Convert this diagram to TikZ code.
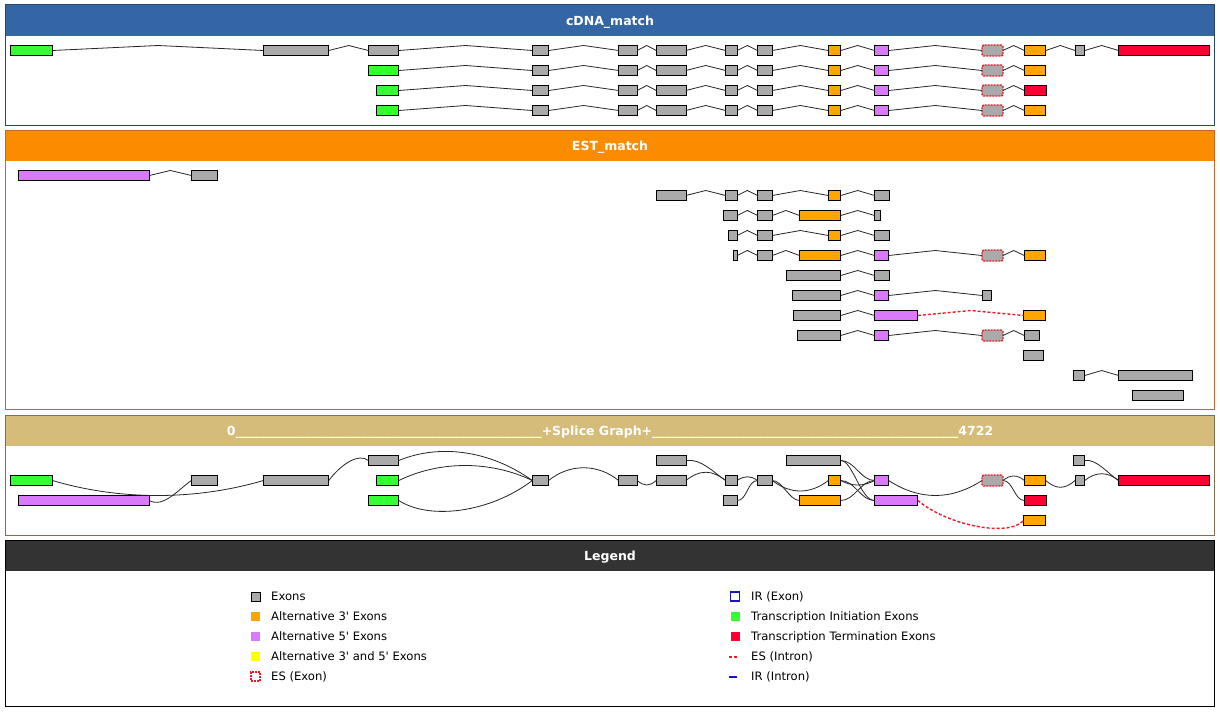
\documentclass[tikz,border=0pt]{standalone}
\usepackage{fontspec}
\setmainfont{DejaVu Sans}
\usepackage{tikz}
\usetikzlibrary{calc}

\definecolor{exgray}{RGB}{170,170,170}
\definecolor{altthree}{RGB}{255,165,0}
\definecolor{altfive}{RGB}{218,122,250}
\definecolor{bothyellow}{RGB}{255,255,0}
\definecolor{initgreen}{RGB}{51,255,51}
\definecolor{termred}{RGB}{255,0,51}
\definecolor{esred}{RGB}{225,30,40}
\definecolor{irblue}{RGB}{20,20,210}
\definecolor{cdnahead}{RGB}{52,101,164}
\definecolor{cdnaframe}{RGB}{40,70,110}
\definecolor{esthead}{RGB}{251,140,0}
\definecolor{estframe}{RGB}{205,100,40}
\definecolor{splicehead}{RGB}{214,188,122}
\definecolor{spliceframe}{RGB}{130,110,80}
\definecolor{legendhead}{RGB}{51,51,51}

\newcommand{\intron}[3][intron]{%
  \draw[#1] (#2.east) -- ($(#2.east)!.5!(#3.west)+(0,-5)$) -- (#3.west);}

\begin{document}
\begin{tikzpicture}[x=1pt,y=-1pt,
    exon/.style={draw=black, line width=0.8pt, fill=exgray, minimum height=10pt,
      inner sep=0pt, outer sep=0pt, anchor=west},
    alt3/.style={exon, fill=altthree},
    alt5/.style={exon, fill=altfive},
    init/.style={exon, fill=initgreen},
    term/.style={exon, fill=termred},
    esexon/.style={exon, draw=esred, line width=1.4pt, dash pattern=on 2pt off 1pt,
      rounded corners=1.5pt, minimum height=11pt},
    intron/.style={draw=black!85, line width=0.8pt},
    esintron/.style={draw=esred, line width=1.4pt, dash pattern=on 3pt off 2pt},
    sgedge/.style={draw=black!85, line width=0.8pt},
    paneltitle/.style={text=white, font=\fontsize{12.5}{15}\selectfont\bfseries,
      anchor=base, inner sep=0pt},
    legtext/.style={font=\fontsize{11.6}{13}\selectfont, anchor=base west, inner sep=0pt},
    legbox/.style={minimum size=9pt, inner sep=0pt, outer sep=0pt}]

\useasboundingbox (0,0) rectangle (1220,725);
\fill[white] (0,0) rectangle (1220,725);

% panels
\fill[cdnahead] (5,5) rectangle (1214,36);
\draw[cdnaframe, line width=1pt] (5,5) rectangle (1214,125);
\node[paneltitle] (cdnatitle) at (610,25.2) {cDNA\_match};

\fill[esthead] (5,130) rectangle (1214,160.5);
\draw[estframe, line width=1pt] (5,130) rectangle (1214,409.5);
\node[paneltitle] (esttitle) at (610,150) {EST\_match};

\fill[splicehead] (5,415) rectangle (1214,445.5);
\draw[spliceframe, line width=1pt] (5,415) rectangle (1214,535);
\node[paneltitle] (sgtitle) at (610,435.5)
  {0\foreach\u in {1,...,49}{\_}+Splice Graph+\foreach\u in {1,...,49}{\_}4722};

\fill[legendhead] (5,540) rectangle (1214,571);
\draw[black, line width=1pt] (5,540) rectangle (1214,706);
\node[paneltitle] (legtitle) at (610,560) {Legend};

% cDNA_match, row 1
\node[init,minimum width=42pt] (c1a) at (10.5,50.5) {};
\node[exon,minimum width=65.4pt] (c1b) at (263.4,50.5) {};
\node[exon,minimum width=30.3pt] (c1c) at (368.5,50.5) {};
\node[exon,minimum width=16.3pt] (c1d) at (532.3,50.5) {};
\node[exon,minimum width=18.6pt] (c1e) at (618.6,50.5) {};
\node[exon,minimum width=29.6pt] (c1f) at (656.3,50.5) {};
\node[exon,minimum width=11.6pt] (c1g) at (725.6,50.5) {};
\node[exon,minimum width=14.8pt] (c1h) at (757.5,50.5) {};
\node[alt3,minimum width=12.4pt] (c1i) at (828.3,50.5) {};
\node[alt5,minimum width=14pt] (c1j) at (874.6,50.5) {};
\node[esexon,minimum width=21pt] (c1k) at (982,50.5) {};
\node[alt3,minimum width=21.4pt] (c1l) at (1024.4,50.5) {};
\node[exon,minimum width=9.7pt] (c1m) at (1075,50.5) {};
\node[term,minimum width=91pt] (c1n) at (1118.6,50.5) {};
\intron{c1a}{c1b} \intron{c1b}{c1c} \intron{c1c}{c1d} \intron{c1d}{c1e}
\intron{c1e}{c1f} \intron{c1f}{c1g} \intron{c1g}{c1h} \intron{c1h}{c1i}
\intron{c1i}{c1j} \intron{c1j}{c1k} \intron{c1k}{c1l} \intron{c1l}{c1m}
\intron{c1m}{c1n}

% cDNA_match, row 2
\node[init,minimum width=30.3pt] (c2a) at (368.5,70.5) {};
\node[exon,minimum width=16.3pt] (c2b) at (532.3,70.5) {};
\node[exon,minimum width=18.6pt] (c2c) at (618.6,70.5) {};
\node[exon,minimum width=29.6pt] (c2d) at (656.3,70.5) {};
\node[exon,minimum width=11.6pt] (c2e) at (725.6,70.5) {};
\node[exon,minimum width=14.8pt] (c2f) at (757.5,70.5) {};
\node[alt3,minimum width=12.4pt] (c2g) at (828.3,70.5) {};
\node[alt5,minimum width=14pt] (c2h) at (874.6,70.5) {};
\node[esexon,minimum width=21pt] (c2i) at (982,70.5) {};
\node[alt3,minimum width=21.4pt] (c2j) at (1024.4,70.5) {};
\intron{c2a}{c2b} \intron{c2b}{c2c} \intron{c2c}{c2d} \intron{c2d}{c2e}
\intron{c2e}{c2f} \intron{c2f}{c2g} \intron{c2g}{c2h} \intron{c2h}{c2i}
\intron{c2i}{c2j}

% cDNA_match, row 3
\node[init,minimum width=22.2pt] (c3a) at (376.6,90.5) {};
\node[exon,minimum width=16.3pt] (c3b) at (532.3,90.5) {};
\node[exon,minimum width=18.6pt] (c3c) at (618.6,90.5) {};
\node[exon,minimum width=29.6pt] (c3d) at (656.3,90.5) {};
\node[exon,minimum width=11.6pt] (c3e) at (725.6,90.5) {};
\node[exon,minimum width=14.8pt] (c3f) at (757.5,90.5) {};
\node[alt3,minimum width=12.4pt] (c3g) at (828.3,90.5) {};
\node[alt5,minimum width=14pt] (c3h) at (874.6,90.5) {};
\node[esexon,minimum width=21pt] (c3i) at (982,90.5) {};
\node[term,minimum width=22.2pt] (c3j) at (1024.4,90.5) {};
\intron{c3a}{c3b} \intron{c3b}{c3c} \intron{c3c}{c3d} \intron{c3d}{c3e}
\intron{c3e}{c3f} \intron{c3f}{c3g} \intron{c3g}{c3h} \intron{c3h}{c3i}
\intron{c3i}{c3j}

% cDNA_match, row 4
\node[init,minimum width=22.2pt] (c4a) at (376.6,110.5) {};
\node[exon,minimum width=16.3pt] (c4b) at (532.3,110.5) {};
\node[exon,minimum width=18.6pt] (c4c) at (618.6,110.5) {};
\node[exon,minimum width=29.6pt] (c4d) at (656.3,110.5) {};
\node[exon,minimum width=11.6pt] (c4e) at (725.6,110.5) {};
\node[exon,minimum width=14.8pt] (c4f) at (757.5,110.5) {};
\node[alt3,minimum width=12.4pt] (c4g) at (828.3,110.5) {};
\node[alt5,minimum width=14pt] (c4h) at (874.6,110.5) {};
\node[esexon,minimum width=21pt] (c4i) at (982,110.5) {};
\node[alt3,minimum width=21.4pt] (c4j) at (1024.4,110.5) {};
\intron{c4a}{c4b} \intron{c4b}{c4c} \intron{c4c}{c4d} \intron{c4d}{c4e}
\intron{c4e}{c4f} \intron{c4f}{c4g} \intron{c4g}{c4h} \intron{c4h}{c4i}
\intron{c4i}{c4j}

% EST_match
\node[alt5,minimum width=131.1pt] (e1a) at (18.3,175.5) {};
\node[exon,minimum width=25.7pt] (e1b) at (191.4,175.5) {};
\intron{e1a}{e1b}

\node[exon,minimum width=29.6pt] (e2a) at (656.3,195.5) {};
\node[exon,minimum width=11.6pt] (e2b) at (725.6,195.5) {};
\node[exon,minimum width=14.8pt] (e2c) at (757.5,195.5) {};
\node[alt3,minimum width=12.4pt] (e2d) at (828.3,195.5) {};
\node[exon,minimum width=14.8pt] (e2e) at (874.6,195.5) {};
\intron{e2a}{e2b} \intron{e2b}{e2c} \intron{e2c}{e2d} \intron{e2d}{e2e}

\node[exon,minimum width=14pt] (e3a) at (723.2,215.5) {};
\node[exon,minimum width=14.8pt] (e3b) at (757.5,215.5) {};
\node[alt3,minimum width=41.2pt] (e3c) at (799.5,215.5) {};
\node[exon,minimum width=5.8pt] (e3d) at (874.6,215.5) {};
\intron{e3a}{e3b} \intron{e3b}{e3c} \intron{e3c}{e3d}

\node[exon,minimum width=8.9pt] (e4a) at (728.3,235.5) {};
\node[exon,minimum width=14.8pt] (e4b) at (757.5,235.5) {};
\node[alt3,minimum width=12.4pt] (e4c) at (828.3,235.5) {};
\node[exon,minimum width=14.8pt] (e4d) at (874.6,235.5) {};
\intron{e4a}{e4b} \intron{e4b}{e4c} \intron{e4c}{e4d}

\node[exon,minimum width=3.9pt] (e5a) at (733.3,255.5) {};
\node[exon,minimum width=14.8pt] (e5b) at (757.5,255.5) {};
\node[alt3,minimum width=41.2pt] (e5c) at (799.5,255.5) {};
\node[alt5,minimum width=14pt] (e5d) at (874.6,255.5) {};
\node[esexon,minimum width=21pt] (e5e) at (982,255.5) {};
\node[alt3,minimum width=21.4pt] (e5f) at (1024.4,255.5) {};
\intron{e5a}{e5b} \intron{e5b}{e5c} \intron{e5c}{e5d} \intron{e5d}{e5e}
\intron{e5e}{e5f}

\node[exon,minimum width=54.4pt] (e6a) at (786.3,275.5) {};
\node[exon,minimum width=14.8pt] (e6b) at (874.6,275.5) {};
\intron{e6a}{e6b}

\node[exon,minimum width=48.2pt] (e7a) at (792.5,295.5) {};
\node[alt5,minimum width=14pt] (e7b) at (874.6,295.5) {};
\node[exon,minimum width=8.9pt] (e7c) at (982.4,295.5) {};
\intron{e7a}{e7b} \intron{e7b}{e7c}

\node[exon,minimum width=47.4pt] (e8a) at (793.3,315.5) {};
\node[alt5,minimum width=43.2pt] (e8b) at (874.6,315.5) {};
\node[alt3,minimum width=22.2pt] (e8c) at (1023.6,315.5) {};
\intron{e8a}{e8b} \intron[esintron]{e8b}{e8c}

\node[exon,minimum width=43.2pt] (e9a) at (797.5,335.5) {};
\node[alt5,minimum width=14pt] (e9b) at (874.6,335.5) {};
\node[esexon,minimum width=21pt] (e9c) at (982,335.5) {};
\node[exon,minimum width=15.2pt] (e9d) at (1024.4,335.5) {};
\intron{e9a}{e9b} \intron{e9b}{e9c} \intron{e9c}{e9d}

\node[exon,minimum width=19.9pt] (e10a) at (1023.6,355.5) {};

\node[exon,minimum width=10.9pt] (e11a) at (1073.8,375.5) {};
\node[exon,minimum width=73.9pt] (e11b) at (1118.6,375.5) {};
\intron{e11a}{e11b}

\node[exon,minimum width=50.9pt] (e12a) at (1132.6,395.5) {};

% Splice Graph
\node[exon,minimum width=30.3pt] (sC) at (368.5,460.5) {};
\node[exon,minimum width=30pt] (sF2) at (656.3,460.5) {};
\node[exon,minimum width=54.4pt] (sP) at (786.3,460.5) {};
\node[exon,minimum width=10.9pt] (sM2) at (1073.8,460.5) {};

\node[init,minimum width=42pt] (sA) at (10.5,480.5) {};
\node[exon,minimum width=25.7pt] (sQ) at (191.4,480.5) {};
\node[exon,minimum width=65.4pt] (sB) at (263.4,480.5) {};
\node[init,minimum width=22.2pt] (sC2) at (376.6,480.5) {};
\node[exon,minimum width=16.3pt] (sD) at (532.3,480.5) {};
\node[exon,minimum width=18.6pt] (sE) at (618.6,480.5) {};
\node[exon,minimum width=29.6pt] (sF) at (656.3,480.5) {};
\node[exon,minimum width=11.6pt] (sG) at (725.6,480.5) {};
\node[exon,minimum width=14.8pt] (sH) at (757.5,480.5) {};
\node[alt3,minimum width=12.4pt] (sI) at (828.3,480.5) {};
\node[alt5,minimum width=14pt] (sJ) at (874.6,480.5) {};
\node[esexon,minimum width=21pt] (sK) at (982,480.5) {};
\node[alt3,minimum width=21.4pt] (sL) at (1024.4,480.5) {};
\node[exon,minimum width=9.7pt] (sM) at (1075,480.5) {};
\node[term,minimum width=91pt] (sN) at (1118.6,480.5) {};

\node[alt5,minimum width=131.1pt] (sV) at (18.3,500.5) {};
\node[init,minimum width=30.3pt] (sC3) at (368.5,500.5) {};
\node[exon,minimum width=14pt] (sG2) at (723.2,500.5) {};
\node[alt3,minimum width=41.2pt] (sO) at (799.5,500.5) {};
\node[alt5,minimum width=43.2pt] (sJ2) at (874.6,500.5) {};
\node[term,minimum width=22.2pt] (sR) at (1024.4,500.5) {};

\node[alt3,minimum width=22.2pt] (sL2) at (1023.6,520.5) {};

\draw[sgedge] (sA.east) .. controls +(67,20) and +(-68,20) .. (sB.west);
\draw[sgedge] (sV.east) .. controls +(14,8) and +(-12,8) .. (sQ.west);
\draw[sgedge] (sB.east) .. controls +(12,-16) and +(-10,-8) .. (sC.west);
\draw[sgedge] (sC.east) .. controls +(41,-17) and +(-42,-30) .. (sD.west);
\draw[sgedge] (sC2.east) .. controls +(41,-20) and +(-42,-20) .. (sD.west);
\draw[sgedge] (sC3.east) .. controls +(31,20) and +(-42,32) .. (sD.west);
\draw[sgedge] (sD.east) .. controls +(21,-17) and +(-21,-17) .. (sE.west);
\draw[sgedge] (sE.east) .. controls +(7,6) and +(-7,6) .. (sF.west);
\draw[sgedge] (sF.east) .. controls +(14,-11) and +(-14,-11) .. (sG.west);
\draw[sgedge] (sF2.east) .. controls +(15,-2) and +(-12,-8) .. (sG.west);
\draw[sgedge] (sG.east) .. controls +(7,-5) and +(-7,-5) .. (sH.west);
\draw[sgedge] (sG2.east) .. controls +(10,0) and +(-10,0) .. (sH.west);
\draw[sgedge] (sH.east) .. controls +(18,14) and +(-18,14) .. (sI.west);
\draw[sgedge] (sH.east) .. controls +(10,0) and +(-10,0) .. (sO.west);
\draw[sgedge] (sP.east) .. controls +(14,0) and +(-14,0) .. (sJ.west);
\draw[sgedge] (sP.east) .. controls +(12,0) and +(-14,0) .. (sJ2.west);
\draw[sgedge] (sI.east) .. controls +(11,6) and +(-11,6) .. (sJ.west);
\draw[sgedge] (sI.east) .. controls +(14,0) and +(-14,0) .. (sJ2.west);
\draw[sgedge] (sO.east) .. controls +(14,0) and +(-14,0) .. (sJ.west);
\draw[sgedge] (sJ.east) .. controls +(31,20) and +(-31,20) .. (sK.west);
\draw[esintron] (sJ2.east) .. controls +(30,25) and +(-15,17) .. (sL2.west);
\draw[sgedge] (sK.east) .. controls +(7,-6) and +(-7,-6) .. (sL.west);
\draw[sgedge] (sK.east) .. controls +(10,0) and +(-10,0) .. (sR.west);
\draw[sgedge] (sL.east) .. controls +(10,9) and +(-10,9) .. (sM.west);
\draw[sgedge] (sM.east) .. controls +(11,-9) and +(-11,-9) .. (sN.west);
\draw[sgedge] (sM2.east) .. controls +(12,-2) and +(-10,-6) .. (sN.west);

% Legend
\node[legbox, fill=exgray, draw=black, line width=0.8pt] (lgexon) at (255.5,596.5) {};
\node[legtext] (lgexont) at (271,600.5) {Exons};
\node[legbox, fill=altthree] (lgthree) at (255.5,616.5) {};
\node[legtext] (lgthreet) at (271,620.5) {Alternative 3\textquotesingle{} Exons};
\node[legbox, fill=altfive] (lgfive) at (255.5,636.5) {};
\node[legtext] (lgfivet) at (271,640.5) {Alternative 5\textquotesingle{} Exons};
\node[legbox, fill=bothyellow] (lgboth) at (255.5,656.5) {};
\node[legtext] (lgbotht) at (271,660.5) {Alternative 3\textquotesingle{} and 5\textquotesingle{} Exons};
\node[legbox, draw=esred, line width=1.4pt, dash pattern=on 2pt off 1pt] (lges) at (255.5,676.5) {};
\node[legtext] (lgest) at (271,680.5) {ES (Exon)};

\node[legbox, draw=irblue, line width=1.5pt] (lgir) at (735,596.5) {};
\node[legtext] (lgirt) at (751,600.5) {IR (Exon)};
\node[legbox, fill=initgreen] (lginit) at (735,616.5) {};
\node[legtext] (lginitt) at (751,620.5) {Transcription Initiation Exons};
\node[legbox, fill=termred] (lgterm) at (735,636.5) {};
\node[legtext] (lgtermt) at (751,640.5) {Transcription Termination Exons};
\draw[esred, line width=2pt, dash pattern=on 3pt off 2pt] (729,656.5) -- (737,656.5);
\node[legtext] (lgesit) at (751,660.5) {ES (Intron)};
\draw[irblue, line width=2pt] (729,676.5) -- (737,676.5);
\node[legtext] (lgirit) at (751,680.5) {IR (Intron)};
\end{tikzpicture}
\end{document}
